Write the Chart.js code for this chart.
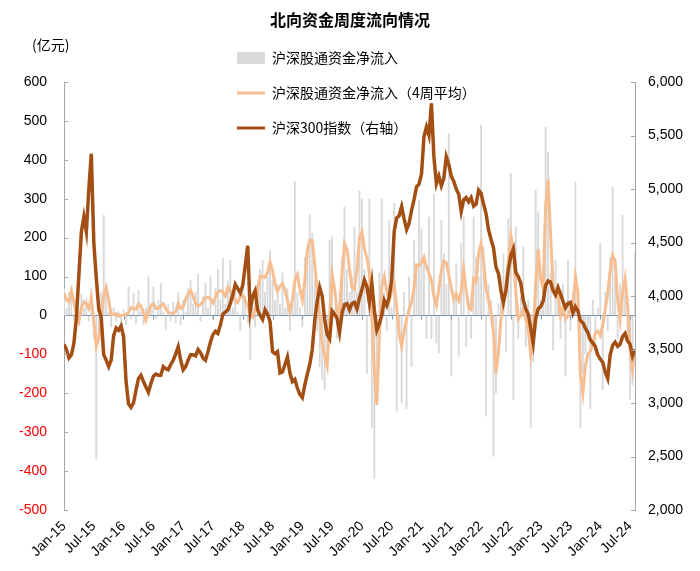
<!DOCTYPE html>
<html>
<head>
<meta charset="utf-8">
<script src="https://cdn.jsdelivr.net/npm/chart.js@4.4.1/dist/chart.umd.min.js"></script>
<style>
  html, body { margin: 0; padding: 0; background: #fff; }
  #wrap { position: relative; width: 700px; height: 571px; }
</style>
</head>
<body>
<div id="wrap"><canvas id="myChart"></canvas></div>
<script>
// half-monthly readings, Jan-2015 .. Jul-2024
const xTickLabels = ['Jan-15', 'Jul-15', 'Jan-16', 'Jul-16', 'Jan-17', 'Jul-17', 'Jan-18', 'Jul-18', 'Jan-19', 'Jul-19',
    'Jan-20', 'Jul-20', 'Jan-21', 'Jul-21', 'Jan-22', 'Jul-22', 'Jan-23', 'Jul-23', 'Jan-24', 'Jul-24'];

// 沪深300指数 (right axis)
const csi300 = [
    3550, 3500, 3420, 3450, 3560, 3800, 4200, 4600, 4740, 4600, 5000, 5330,
    4500, 4170, 3880, 3800, 3450, 3400, 3340, 3400, 3630, 3700, 3680, 3720,
    3620, 3200, 2990, 2960, 3000, 3120, 3230, 3260, 3200, 3150, 3100, 3180,
    3250, 3270, 3260, 3260, 3340, 3320, 3310, 3360, 3400, 3460, 3526, 3400,
    3310, 3340, 3400, 3450, 3450, 3440, 3500, 3470, 3420, 3400, 3480, 3570,
    3640, 3670, 3650, 3730, 3830, 3850, 3870, 3930, 4010, 4110, 4070, 4030,
    4100, 4280, 4470, 3860, 4000, 4050, 3870, 3820, 3780, 3870, 3830, 3760,
    3480, 3460, 3480, 3280, 3290, 3360, 3430, 3280, 3200, 3220, 3140, 3080,
    3050, 3170, 3270, 3360, 3500, 3770, 3950, 4080, 4000, 3780, 3640, 3600,
    3860, 3830, 3790, 3660, 3840, 3920, 3930, 3870, 3930, 3940, 3880, 3980,
    4060, 4150, 4090, 3940, 4120, 3870, 3680, 3740, 3820, 3960, 3910, 3990,
    4150, 4600, 4730, 4750, 4835, 4720, 4620, 4680, 4800, 4900, 5020, 5045,
    5140, 5490, 5580, 5500, 5800, 5300, 5050, 5120, 5030, 5100, 5300, 5230,
    5120, 5070, 5000, 4950, 4790, 4900, 4920, 4880, 4920, 4840, 4860, 4990,
    4960, 4860, 4770, 4620, 4530, 4450, 4270, 4210, 4050, 3940, 4050, 4250,
    4380, 4440, 4220, 4180, 4120, 3960, 3880, 3830, 3700, 3560, 3790, 3880,
    3900, 3950, 4100, 4140, 4130, 4050, 4010, 4080, 4020, 3950, 3890, 3930,
    3940, 3840, 3900, 3860, 3770, 3750, 3700, 3660, 3590, 3560, 3530, 3450,
    3410, 3380, 3290, 3230, 3450, 3540, 3570, 3530, 3550, 3620, 3650, 3580,
    3550, 3440, 3500
];

// 沪深股通资金净流入（4周平均）, 亿元
const inflow4w = [
    57, 40, 35, 62, 35, 5, -15, 20, 35, 30, 18, 45,
    -15, -80, -60, 0, 50, 72, 40, 2, 3, 5, -2, 0,
    0, 3, 8, 20, 18, 16, 30, 24, 8, -12, 10, 25,
    31, 18, 18, 25, 30, 18, 8, 6, 5, 10, 31, 18,
    22, 42, 55, 64, 50, 30, 24, 28, 36, 45, 47, 42,
    32, 48, 60, 64, 60, 50, 72, 62, 52, 38, 33, 50,
    52, 38, 25, 0, -5, 15, 60, 100, 100, 98, 110, 136,
    115, 80, 62, 74, 82, 65, 40, 10, 40, 90, 105, 68,
    40, 90, 165, 194, 192, 130, 65, 0, -75, -105, -130, -10,
    105, 70, 10, 0, 110, 185, 170, 120, 72, 67, 115, 200,
    215, 172, 148, 110, 0, -140, -230, -60, 75, 100, 64, 38,
    60, 80, 22, -45, -80, -40, -10, 15, 35, 70, 130, 128,
    135, 150, 125, 108, 90, 48, 26, 70, 115, 140, 135, 105,
    70, 42, 55, 38, 60, 120, 65, 20, 15, 95, 88, 160,
    185, 140, 70, 40, 10, -45, -149, -95, -10, 30, 75, 140,
    205, 170, 60, -10, 0, 15, -10, -35, -100, -50, 80, 170,
    95, 70, 280, 350, 210, 75, 50, 55, 0, 20, -10, 0,
    15, 25, 100, 60, -150, -200, -130, -100, -92, -75, -45, -40,
    -52, -25, 15, 55, 115, 155, 140, 40, -10, 60, 95, 30,
    -90, -140, -90
];

// 沪深股通资金净流入, 亿元
const netInflow = [
    70, 20, 60, 75, -10, -25, 10, 55, 20, 45, -15, 70,
    -60, -370, -40, 60, 258, 60, 10, -30, 20, -15, 10, -20,
    15, -25, 74, -10, 57, -20, 66, 10, -25, 20, 100, 15,
    74, -10, 40, 83, 10, -37, 30, -15, 35, -20, 60, -25,
    40, 10, 70, 91, 30, 60, 108, -15, 50, 83, 20, 100,
    -12, 70, 120, 40, 148, 30, 90, 142, 20, 60, 10, -40,
    80, 50, -20, -114, 20, -30, 90, 120, 142, 60, 100, 168,
    90, 40, 80, 30, 110, 20, 70, -40, 30, 345, 60, 20,
    -30, 150, 180, 260, 211, 90, -40, -132, -166, -192, -120, 194,
    203, 20, -60, 60, 150, 280, 120, 60, 100, 228, 60, 320,
    300, 120, -150, 300, -290, -419, -200, 110, 300, 60, -40, 245,
    20, 288, -247, -60, -226, 60, -240, 100, -132, 194, 120, 297,
    223, 140, -60, 254, -60, 313, -71, -97, 245, 160, 80, 468,
    -157, 60, 134, -106, 186, 254, -80, 40, -60, 254, 151, 100,
    490, 177, -260, 80, 40, -363, -200, 30, 100, 160, -93, 250,
    366, -217, 228, -60, 50, 177, -80, 40, -290, -120, 323, 267,
    40, 120, 485, 420, 110, -90, 143, 60, -60, 80, -157, 143,
    -40, 60, 344, 30, -290, -150, -100, -60, -240, 40, -100, 20,
    186, -192, 60, -40, 150, 330, 100, -60, 80, 258, 60, -60,
    -217, -180, 160
];

const TITLE = '北向资金周度流向情况';
const UNIT = '(亿元)';
const FONT = 'Arial, "Liberation Sans", "Noto Sans CJK SC", sans-serif';
const CJK = '"Noto Sans CJK SC", Arial, sans-serif';

const STEP = 0.5; // months between readings
const toPoints = arr => arr.map((v, i) => ({ x: i * STEP, y: v }));

Chart.defaults.font.family = FONT;
Chart.defaults.font.size = 14;
Chart.defaults.color = '#000';

// zero line, inward tick marks, title, unit and legend
const decor = {
    id: 'decor',
    afterDatasetDraw(chart, args) {
        if (args.index !== 0) return;
        const { ctx, chartArea: a, scales: { x, y } } = chart;
        const y0 = Math.round(y.getPixelForValue(0)) + 0.5;
        ctx.save();
        ctx.strokeStyle = '#8497B0';
        ctx.lineWidth = 1;
        ctx.beginPath();
        ctx.moveTo(a.left, y0);
        ctx.lineTo(a.right, y0);
        x.ticks.forEach(t => {
            const px = Math.round(x.getPixelForValue(t.value)) + 0.5;
            ctx.moveTo(px, y0);
            ctx.lineTo(px, y0 + 4);
        });
        ctx.stroke();
        ctx.restore();
    },
    afterDraw(chart) {
        const { ctx, chartArea: a, scales: { y, y1 } } = chart;
        ctx.save();
        ctx.strokeStyle = '#A6A6A6';
        ctx.lineWidth = 1;
        ctx.beginPath();
        y.ticks.forEach(t => {
            const py = Math.round(y.getPixelForValue(t.value)) + 0.5;
            ctx.moveTo(a.left, py);
            ctx.lineTo(a.left + 4, py);
        });
        y1.ticks.forEach(t => {
            const py = Math.round(y1.getPixelForValue(t.value)) + 0.5;
            ctx.moveTo(a.right - 4, py);
            ctx.lineTo(a.right, py);
        });
        ctx.stroke();

        ctx.fillStyle = '#000';
        ctx.textBaseline = 'middle';
        ctx.textAlign = 'center';
        ctx.font = 'bold 16px ' + CJK;
        ctx.fillText(TITLE, 350, 20);

        ctx.textAlign = 'left';
        ctx.font = '14px ' + CJK;
        ctx.fillText(UNIT, 32, 45);

        // legend
        const ds = chart.data.datasets;
        const lx = 237, rows = [58, 93, 128];
        ctx.fillStyle = ds[0].backgroundColor;
        ctx.fillRect(lx, rows[0] - 6, 28, 12);
        [1, 2].forEach(i => {
            ctx.strokeStyle = ds[i].borderColor;
            ctx.lineWidth = 3;
            ctx.beginPath();
            ctx.moveTo(lx, rows[i]);
            ctx.lineTo(lx + 28, rows[i]);
            ctx.stroke();
        });
        ctx.fillStyle = '#000';
        ds.forEach((d, i) => ctx.fillText(d.label, lx + 35, rows[i]));
        ctx.restore();
    }
};

new Chart(document.getElementById('myChart'), {
    type: 'bar',
    plugins: [decor],
    data: {
        datasets: [
            {
                type: 'bar',
                label: '沪深股通资金净流入',
                data: toPoints(netInflow),
                backgroundColor: '#D9D9D9',
                barPercentage: 1,
                categoryPercentage: 0.75,
                yAxisID: 'y',
                order: 3
            },
            {
                type: 'line',
                label: '沪深股通资金净流入（4周平均）',
                data: toPoints(inflow4w),
                borderColor: '#F6BE91',
                borderWidth: 3,
                pointRadius: 0,
                tension: 0,
                yAxisID: 'y',
                order: 2
            },
            {
                type: 'line',
                label: '沪深300指数（右轴）',
                data: toPoints(csi300),
                borderColor: '#A34F14',
                borderWidth: 3.5,
                pointRadius: 0,
                tension: 0,
                yAxisID: 'y1',
                order: 1
            }
        ]
    },
    options: {
        responsive: true,
        maintainAspectRatio: false,
        animation: false,
        layout: { padding: { top: 82, left: 0, right: 0, bottom: 0 } },
        plugins: {
            legend: { display: false },
            tooltip: { enabled: false }
        },
        scales: {
            x: {
                type: 'linear',
                min: 0,
                max: 115,
                offset: false,
                grid: { display: false, drawTicks: false },
                border: { display: false },
                afterBuildTicks: s => { s.ticks = xTickLabels.map((_, i) => ({ value: i * 6 })); },
                afterFit: s => { s.height = 61; },
                ticks: {
                    autoSkip: false,
                    maxRotation: 45,
                    minRotation: 45,
                    padding: 8,
                    callback: v => xTickLabels[v / 6]
                }
            },
            y: {
                position: 'left',
                min: -500,
                max: 600,
                grid: { display: false, drawTicks: false },
                border: { display: true, color: '#A6A6A6' },
                afterFit: s => { s.width = 64; },
                ticks: {
                    stepSize: 100,
                    padding: 17,
                    color: c => c.tick.value < 0 ? '#FF0000' : '#000'
                }
            },
            y1: {
                position: 'right',
                min: 2000,
                max: 6000,
                grid: { display: false, drawTicks: false },
                border: { display: true, color: '#A6A6A6' },
                afterFit: s => { s.width = 65; },
                ticks: {
                    stepSize: 500,
                    padding: 13,
                    callback: v => v.toLocaleString('en-US')
                }
            }
        }
    }
});
</script>
</body>
</html>
